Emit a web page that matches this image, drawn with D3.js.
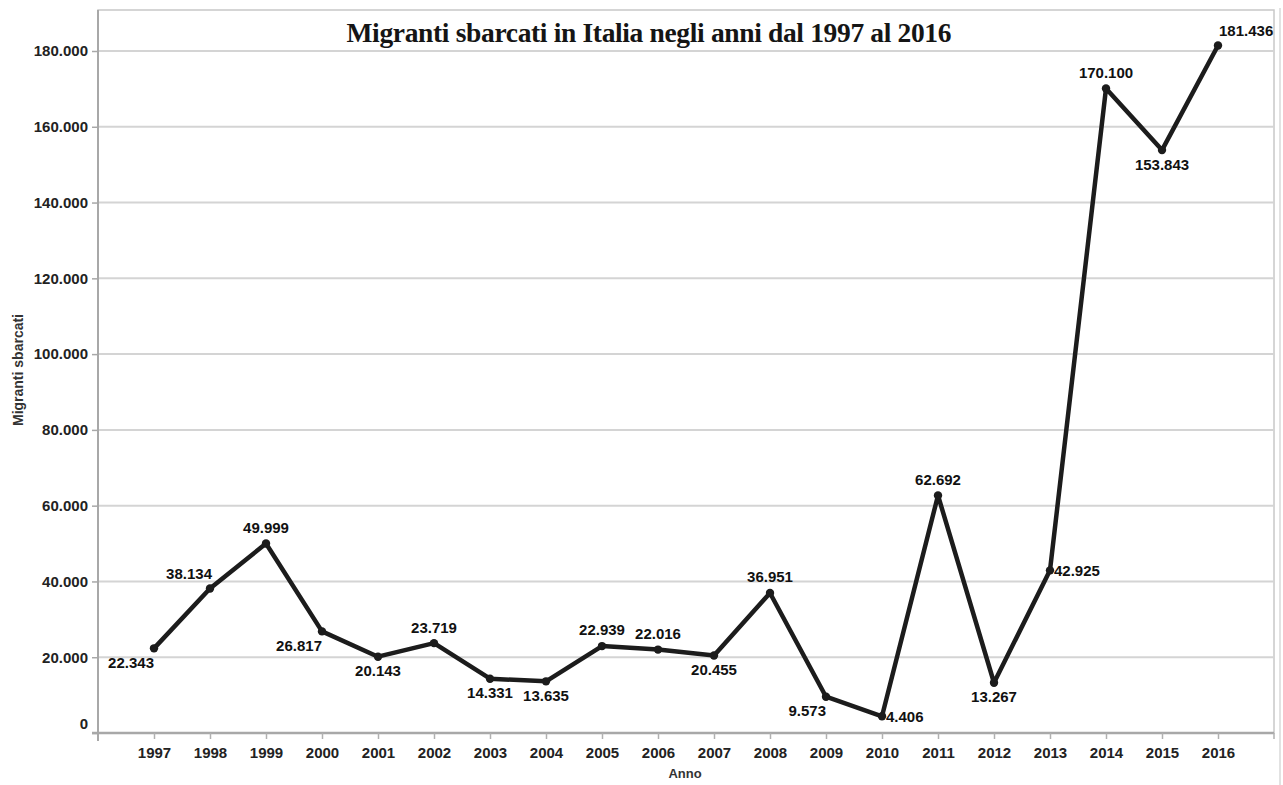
<!DOCTYPE html>
<html>
<head>
<meta charset="utf-8">
<script src="https://cdn.jsdelivr.net/npm/d3@7"></script>
<style>
  html, body { margin: 0; padding: 0; background: #fff; }
  svg { display: block; }
</style>
</head>
<body>
<svg id="chart" width="1283" height="785"></svg>
<script>
// Sbarchi annuali di migranti in Italia
const years = ["1997","1998","1999","2000","2001","2002","2003","2004","2005","2006",
               "2007","2008","2009","2010","2011","2012","2013","2014","2015","2016"];
const migrants = [22343, 38134, 49999, 26817, 20143, 23719, 14331, 13635, 22939, 22016,
                  20455, 36951, 9573, 4406, 62692, 13267, 42925, 170100, 153843, 181436];
// where each value label sits relative to its point
const labelSide = ["belowLeft","aboveLeft","above","belowLeft","below","above","below","below","above","above",
                   "below","above","belowLeft","right","above","below","right","above","below","aboveRight"];
const yTicks = [0, 20000, 40000, 60000, 80000, 100000, 120000, 140000, 160000, 180000];

const titleText = "Migranti sbarcati in Italia negli anni dal 1997 al 2016";
const xTitle = "Anno";
const yTitle = "Migranti sbarcati";

const it = d3.formatLocale({ decimal: ",", thousands: ".", grouping: [3], currency: ["€", ""] });
const fmt = it.format(",d");

const svg = d3.select("#chart");
const W = 1283, H = 785;
const plot = { left: 98, right: 1274, top: 10, bottom: 733 };

const x = d3.scalePoint().domain(years).range([plot.left, plot.right]).padding(1);
const y = d3.scaleLinear().domain([0, 180000]).range([plot.bottom, 51]);

const sans = "'Liberation Sans', Arial, sans-serif";

// plot frame
svg.append("rect")
  .attr("x", plot.left).attr("y", plot.top)
  .attr("width", plot.right - plot.left).attr("height", plot.bottom - plot.top)
  .attr("fill", "#fff").attr("stroke", "#c8c8c8").attr("stroke-width", 1.5);
svg.append("line")
  .attr("x1", 1280).attr("x2", 1280).attr("y1", 8).attr("y2", H)
  .attr("stroke", "#d8d8d8").attr("stroke-width", 1.5);

// horizontal gridlines
svg.append("g").selectAll("line").data(yTicks.filter(d => d > 0)).join("line")
  .attr("x1", plot.left).attr("x2", plot.right)
  .attr("y1", d => y(d)).attr("y2", d => y(d))
  .attr("stroke", "#d4d4d4").attr("stroke-width", 2);

// y axis
const yAxis = svg.append("g")
  .attr("transform", `translate(${plot.left},0)`)
  .call(d3.axisLeft(y).tickValues(yTicks).tickFormat(fmt).tickSize(6).tickPadding(4));
yAxis.select(".domain").attr("stroke", "#a8a8a8").attr("stroke-width", 2)
  .attr("d", `M0,${plot.top}V${plot.bottom + 8}`);
yAxis.selectAll(".tick line").attr("stroke", "#a8a8a8").attr("stroke-width", 1.5);
yAxis.selectAll(".tick text")
  .attr("font-family", sans).attr("font-size", 15).attr("font-weight", "bold").attr("fill", "#222");
yAxis.selectAll(".tick").filter(d => d === 0).select("text").attr("y", -9);

// x axis
const xAxis = svg.append("g")
  .attr("transform", `translate(0,${plot.bottom})`)
  .call(d3.axisBottom(x).tickSize(6).tickPadding(8));
xAxis.select(".domain").attr("stroke", "#a8a8a8").attr("stroke-width", 2.5)
  .attr("d", `M${plot.left - 6},0H${plot.right}`);
xAxis.selectAll(".tick line").attr("stroke", "#b0b0b0").attr("stroke-width", 1.5);
xAxis.selectAll(".tick text")
  .attr("font-family", sans).attr("font-size", 15).attr("font-weight", "bold").attr("fill", "#222");
xAxis.append("line").attr("x1", plot.right).attr("x2", plot.right).attr("y1", 0).attr("y2", 6)
  .attr("stroke", "#b0b0b0").attr("stroke-width", 1.5);

// axis titles
svg.append("text")
  .attr("x", (plot.left + plot.right) / 2 - 1).attr("y", 778)
  .attr("text-anchor", "middle")
  .attr("font-family", sans).attr("font-size", 13).attr("font-weight", "bold").attr("fill", "#333")
  .text(xTitle);
svg.append("text")
  .attr("transform", "translate(23,370) rotate(-90)")
  .attr("text-anchor", "middle")
  .attr("font-family", sans).attr("font-size", 14).attr("font-weight", "bold").attr("fill", "#333")
  .text(yTitle);

// title
svg.append("text")
  .attr("x", 649).attr("y", 42)
  .attr("text-anchor", "middle")
  .attr("font-family", "'Liberation Serif', 'Times New Roman', serif")
  .attr("font-size", 27.5).attr("font-weight", "bold").attr("fill", "#151515")
  .attr("textLength", 605).attr("lengthAdjust", "spacing")
  .text(titleText);

// series line
const pts = years.map((yr, i) => ({ year: yr, value: migrants[i], side: labelSide[i] }));
svg.append("path")
  .datum(pts)
  .attr("fill", "none").attr("stroke", "#1c1c1c").attr("stroke-width", 4.5)
  .attr("stroke-linejoin", "round")
  .attr("d", d3.line().x(d => x(d.year)).y(d => y(d.value)));

svg.append("g").selectAll("circle").data(pts).join("circle")
  .attr("cx", d => x(d.year)).attr("cy", d => y(d.value)).attr("r", 4.2)
  .attr("fill", "#1c1c1c");

// value labels
const place = {
  above:      [0, -16, "middle"],
  below:      [0, 14, "middle"],
  belowLeft:  [0, 14, "end"],
  aboveLeft:  [2, -15, "end"],
  right:      [4, 0, "start"],
  aboveRight: [1, -15, "start"]
};
svg.append("g").selectAll("text").data(pts).join("text")
  .attr("x", d => x(d.year) + place[d.side][0])
  .attr("y", d => y(d.value) + place[d.side][1])
  .attr("dy", "0.36em")
  .attr("text-anchor", d => place[d.side][2])
  .attr("font-family", sans).attr("font-size", 15).attr("font-weight", "bold").attr("fill", "#111")
  .text(d => fmt(d.value));
</script>
</body>
</html>
